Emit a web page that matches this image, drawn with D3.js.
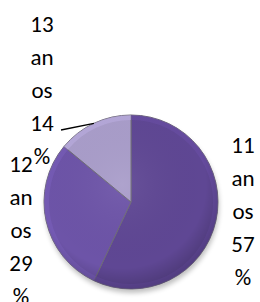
<!DOCTYPE html>
<html lang="pt">
<head>
<meta charset="UTF-8">
<title>Idades</title>
<script src="https://d3js.org/d3.v7.min.js"></script>
<style>
    body{ margin:0; background:#fff; }
    svg{ display:block; }
    text{ font-family: Calibri, Carlito, Lato, sans-serif; font-size:23px; fill:#000; }
</style>
</head>
<body>
<svg width="260" height="302"></svg>
<script>
    // data
    const categories = ["11 anos", "12 anos", "13 anos"];
    const values = [57, 29, 14];
    const colors = ["#5f4794", "#6d54a8", "#a99dca"];

    // label layout (centre x, first baseline), text wraps every 2 chars
    const labelPos = [[243, 153], [21, 172], [42, 32]];
    const lineStep = 33;

    const svg = d3.select("svg");
    const cx = 131, cy = 202, r = 87;

    const defs = svg.append("defs");
    const shade = defs.append("radialGradient").attr("id", "shade")
        .attr("cx", "45%").attr("cy", "40%").attr("r", "60%");
    shade.append("stop").attr("offset", "0%").attr("stop-color", "#fff").attr("stop-opacity", 0.06);
    shade.append("stop").attr("offset", "80%").attr("stop-color", "#000").attr("stop-opacity", 0.0);
    shade.append("stop").attr("offset", "100%").attr("stop-color", "#000").attr("stop-opacity", 0.18);
    const blur = defs.append("filter").attr("id", "sh").attr("x", "-20%").attr("y", "-20%").attr("width", "140%").attr("height", "140%");
    blur.append("feGaussianBlur").attr("stdDeviation", 2.5);

    const pie = d3.pie().sort(null).value(d => d);
    const arcs = pie(values);
    const arc = d3.arc().innerRadius(0).outerRadius(r);
    const bevel = d3.arc().innerRadius(r - 5).outerRadius(r);

    const g = svg.append("g").attr("transform", `translate(${cx},${cy})`);

    // soft shadow under the pie
    g.append("circle").attr("cx", 1).attr("cy", 4).attr("r", r)
        .attr("fill", "#000").attr("opacity", 0.25).attr("filter", "url(#sh)");

    g.selectAll("path.slice")
        .data(arcs)
        .enter()
        .append("path")
        .attr("class", "slice")
        .attr("d", arc)
        .attr("fill", (d, i) => colors[i])
        .attr("stroke", "#6e6a78")
        .attr("stroke-width", 1);

    // rim highlight
    g.selectAll("path.rim")
        .data(arcs)
        .enter()
        .append("path")
        .attr("class", "rim")
        .attr("d", bevel)
        .attr("fill", (d, i) => d3.color(colors[i]).brighter(0.35))
        .attr("opacity", 0.5);

    g.append("circle").attr("r", r).attr("fill", "url(#shade)");

    // labels
    const labels = svg.append("g");
    categories.forEach((c, i) => {
        const chunks = [c.split(" ")[0]];
        const rest = c.split(" ")[1];
        for (let k = 0; k < rest.length; k += 2) chunks.push(rest.slice(k, k + 2));
        const pct = values[i] + "%";
        chunks.push(pct.slice(0, 2), pct.slice(2));
        labels.append("text")
            .attr("text-anchor", "middle")
            .selectAll("tspan")
            .data(chunks)
            .enter()
            .append("tspan")
            .attr("x", labelPos[i][0])
            .attr("y", (d, k) => labelPos[i][1] + k * lineStep)
            .text(d => d);
    });

    // leader line for the small slice
    const a = arcs[2];
    const mid = (a.startAngle + a.endAngle) / 2;
    svg.append("path")
        .attr("d", d3.line()([[61, 130], [cx + Math.sin(mid) * r, cy - Math.cos(mid) * r]]))
        .attr("stroke", "#000")
        .attr("stroke-width", 1.3)
        .attr("fill", "none");
</script>
</body>
</html>
